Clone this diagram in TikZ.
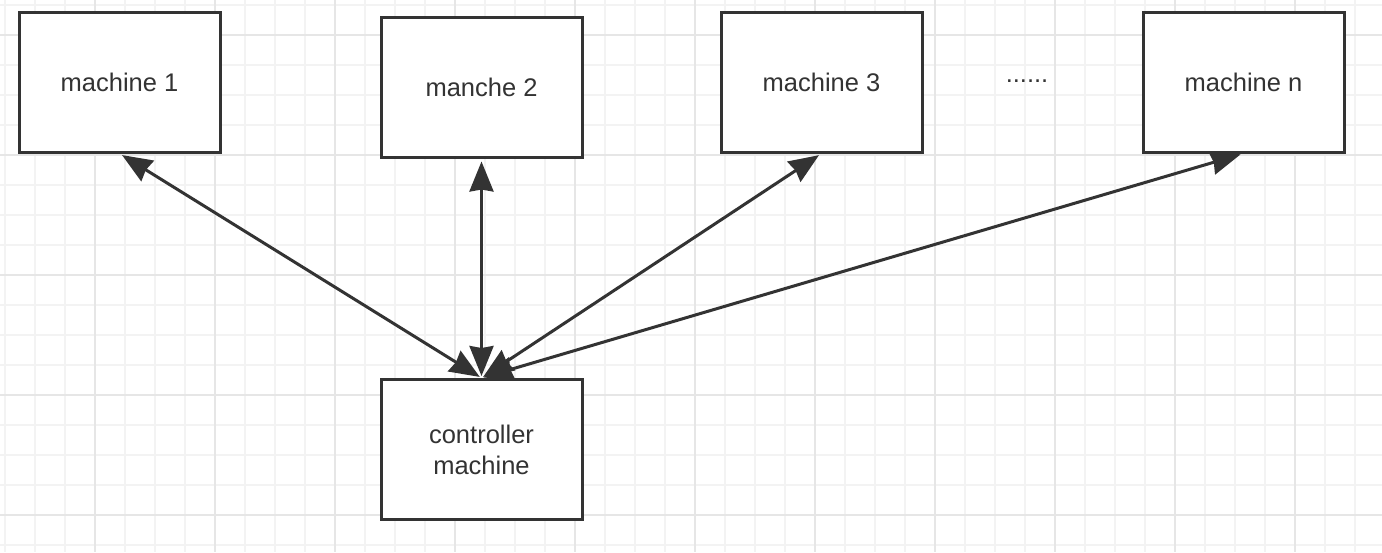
\documentclass[tikz,border=0pt]{standalone}
\usepackage{fontspec}
\setmainfont{Liberation Sans}
\usepackage{xcolor}
\usepackage{tikz}
\usetikzlibrary{positioning, arrows.meta}

\definecolor{inkgray}{HTML}{333333}
\definecolor{minorgrid}{HTML}{F3F3F3}
\definecolor{majorgrid}{HTML}{E6E6E6}

\tikzset{
    machinebox/.style={draw=inkgray, line width=3pt, fill=white, text=inkgray,
        minimum width=201pt, minimum height=140pt, inner sep=0pt,
        align=center, font=\fontsize{25.5}{31}\selectfont},
    link/.style={{Stealth[length=30pt,width=24pt,inset=2pt]}-{Stealth[length=30pt,width=24pt,inset=2pt]},
        draw=inkgray, line width=3pt, shorten <=3pt, shorten >=2pt}
}

\begin{document}
\begin{tikzpicture}[x=1pt, y=-1pt]
    \useasboundingbox[fill=white] (0,0) rectangle (1382,552);
    % grid
    \foreach \x in {5,35,...,1355}
    {
        \draw[minorgrid, line width=1.5pt] (\x,0) -- (\x,552);
    }
    \foreach \y in {5,35,...,545}
    {
        \draw[minorgrid, line width=1.5pt] (0,\y) -- (1382,\y);
    }
    \foreach \x in {95,215,...,1295}
    {
        \draw[majorgrid, line width=1.5pt] (\x,0) -- (\x,552);
    }
    \foreach \y in {35,155,...,515}
    {
        \draw[majorgrid, line width=1.5pt] (0,\y) -- (1382,\y);
    }

    % boxes
    \node[machinebox] (mach1) at (119.5,82) {machine 1};
    \node[machinebox] (mach2) at (481.5,87) {manche 2};
    \node[machinebox] (mach3) at (821.5,82) {machine 3};
    \node[machinebox] (machn) at (1243.5,82) {machine n};
    \node[machinebox] (ctrl) at (481.5,449.5) {controller\\ machine};
    \node[text=inkgray, font=\fontsize{25.5}{31}\selectfont] (dots) at (1027,81) {......};

    % links
    \draw[link] (mach1.south) -- (ctrl.north);
    \draw[link] (mach2.south) -- (ctrl.north);
    \draw[link] (mach3.south) -- (ctrl.north);
    \draw[link] (machn.south) -- (ctrl.north);
\end{tikzpicture}
\end{document}
